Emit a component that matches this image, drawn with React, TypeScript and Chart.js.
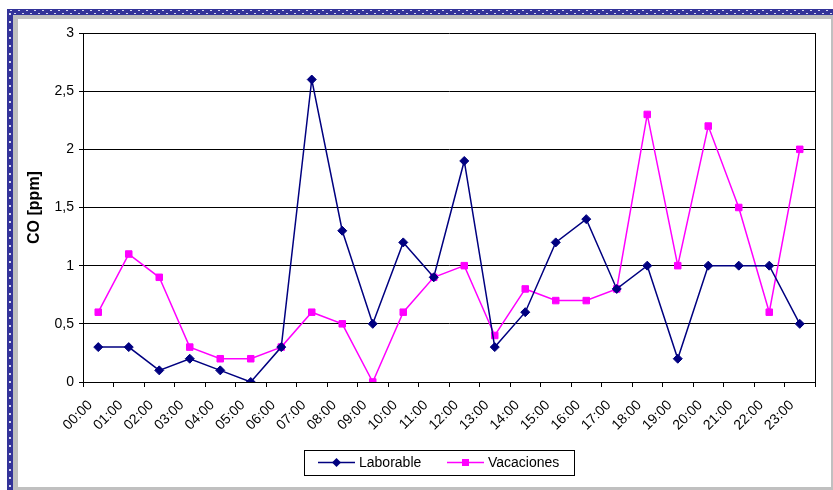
import React, { useEffect, useRef } from "react";
import { Chart, registerables } from "chart.js";

Chart.register(...registerables);

const categories: string[] = [
  "00:00", "01:00", "02:00", "03:00", "04:00", "05:00", "06:00", "07:00",
  "08:00", "09:00", "10:00", "11:00", "12:00", "13:00", "14:00", "15:00",
  "16:00", "17:00", "18:00", "19:00", "20:00", "21:00", "22:00", "23:00",
];

const laborable: number[] = [
  0.3, 0.3, 0.1, 0.2, 0.1, 0, 0.3, 2.6, 1.3, 0.5, 1.2, 0.9,
  1.9, 0.3, 0.6, 1.2, 1.4, 0.8, 1.0, 0.2, 1.0, 1.0, 1.0, 0.5,
];

const vacaciones: number[] = [
  0.6, 1.1, 0.9, 0.3, 0.2, 0.2, 0.3, 0.6, 0.5, 0, 0.6, 0.9,
  1.0, 0.4, 0.8, 0.7, 0.7, 0.8, 2.3, 1.0, 2.2, 1.5, 0.6, 2.0,
];

const yTicks: number[] = [0, 0.5, 1, 1.5, 2, 2.5, 3];

const FONT = "'Liberation Sans', Arial, sans-serif";

const framePlugin = {
  id: "frame",
  beforeDraw(chart: any) {
    const ctx = chart.ctx;
    const W = chart.width;
    const H = chart.height;
    ctx.save();
    ctx.fillStyle = "#ffffff";
    ctx.fillRect(0, 0, W, H);
    // gray chart border
    ctx.fillStyle = "#c0c0c0";
    ctx.fillRect(13, 15, W - 13, 4);
    ctx.fillRect(13, 15, 5, H - 15);
    ctx.fillRect(W - 2, 15, 2, H - 15);
    ctx.fillRect(13, H - 3, W - 13, 3);
    // blue dotted band
    ctx.fillStyle = "#333399";
    ctx.fillRect(7, 9, W - 7, 6);
    ctx.fillRect(7, 9, 6, H - 9);
    ctx.fillStyle = "#d8d8f0";
    for (let x = 10; x < W; x += 8) {
      ctx.fillRect(x, 10, 2, 1);
      ctx.fillRect(x + 4, 13, 2, 1);
    }
    for (let y = 13; y < H; y += 8) {
      ctx.fillRect(9, y, 2, 2);
    }
    ctx.restore();
  },
  afterDraw(chart: any) {
    const ctx = chart.ctx;
    const a = chart.chartArea;
    ctx.save();
    ctx.strokeStyle = "#000000";
    ctx.lineWidth = 1;
    ctx.beginPath();
    ctx.moveTo(Math.round(a.right) + 0.5, a.top);
    ctx.lineTo(Math.round(a.right) + 0.5, a.bottom);
    ctx.stroke();
    // legend
    const lx = 304, ly = 450, lw = 270, lh = 25;
    ctx.fillStyle = "#ffffff";
    ctx.fillRect(lx, ly, lw, lh);
    ctx.strokeRect(lx + 0.5, ly + 0.5, lw, lh);
    const items = [
      { x: 318, tx: 359 },
      { x: 447, tx: 488 },
    ];
    const cy = ly + 12.5;
    chart.data.datasets.forEach((ds: any, i: number) => {
      const it = items[i];
      ctx.strokeStyle = ds.borderColor;
      ctx.lineWidth = 1.5;
      ctx.beginPath();
      ctx.moveTo(it.x, cy);
      ctx.lineTo(it.x + 37, cy);
      ctx.stroke();
      ctx.fillStyle = ds.pointBackgroundColor;
      ctx.beginPath();
      const mx = it.x + 18.5;
      if (ds.pointStyle === "rectRot") {
        ctx.moveTo(mx, cy - 4.5);
        ctx.lineTo(mx + 4.5, cy);
        ctx.lineTo(mx, cy + 4.5);
        ctx.lineTo(mx - 4.5, cy);
        ctx.closePath();
      } else {
        ctx.rect(mx - 3.5, cy - 3.5, 7, 7);
      }
      ctx.fill();
      ctx.fillStyle = "#000000";
      ctx.font = `14px ${FONT}`;
      ctx.textAlign = "left";
      ctx.textBaseline = "middle";
      ctx.fillText(ds.label, it.tx, cy + 1);
    });
    ctx.restore();
  },
};

export default function App() {
  const ref = useRef<HTMLCanvasElement | null>(null);

  useEffect(() => {
    document.body.style.margin = "0";
    const canvas = ref.current;
    if (!canvas) return;
    const chart = new Chart(canvas, {
      type: "line",
      data: {
        labels: categories,
        datasets: [
          {
            label: "Laborable",
            data: laborable,
            borderColor: "#000080",
            backgroundColor: "#000080",
            pointBackgroundColor: "#000080",
            pointBorderColor: "#000080",
            pointStyle: "rectRot",
            pointRadius: 4.5,
            pointBorderWidth: 1,
            borderWidth: 1.5,
            tension: 0,
          },
          {
            label: "Vacaciones",
            data: vacaciones,
            borderColor: "#ff00ff",
            backgroundColor: "#ff00ff",
            pointBackgroundColor: "#ff00ff",
            pointBorderColor: "#ff00ff",
            pointStyle: "rect",
            pointRadius: 4.6,
            pointBorderWidth: 1,
            borderWidth: 1.5,
            tension: 0,
          },
        ],
      },
      options: {
        animation: false,
        responsive: false,
        maintainAspectRatio: false,
        layout: { padding: { left: 25, top: 33, right: 18, bottom: 48 } },
        plugins: {
          legend: { display: false },
          tooltip: { enabled: false },
        },
        scales: {
          x: {
            offset: true,
            grid: {
              offset: true,
              drawOnChartArea: false,
              drawTicks: true,
              tickLength: 5,
              color: "#000000",
            },
            border: { display: true, color: "#000000", width: 1 },
            ticks: {
              minRotation: 45,
              maxRotation: 45,
              autoSkip: false,
              color: "#000000",
              font: { family: FONT, size: 14 },
              padding: 10,
              labelOffset: -8,
            },
            afterFit(scale: any) {
              scale.height = 60;
            },
          },
          y: {
            min: 0,
            max: 3,
            afterBuildTicks(scale: any) {
              scale.ticks = yTicks.map((v) => ({ value: v }));
            },
            grid: {
              color: "#000000",
              lineWidth: 1,
              tickLength: 4,
              drawTicks: true,
            },
            border: { display: true, color: "#000000", width: 1 },
            ticks: {
              color: "#000000",
              font: { family: FONT, size: 14 },
              padding: 5,
              callback: (v: any) => String(v).replace(".", ","),
            },
            title: {
              display: true,
              text: "CO [ppm]",
              color: "#000000",
              font: { family: FONT, size: 16, weight: "bold" },
              padding: 0,
            },
            afterFit(scale: any) {
              scale.width = 58;
            },
          },
        },
      },
      plugins: [framePlugin],
    });
    return () => chart.destroy();
  }, []);

  return (
    <div style={{ width: 833, height: 490 }}>
      <canvas ref={ref} width={833} height={490} style={{ display: "block" }} />
    </div>
  );
}
